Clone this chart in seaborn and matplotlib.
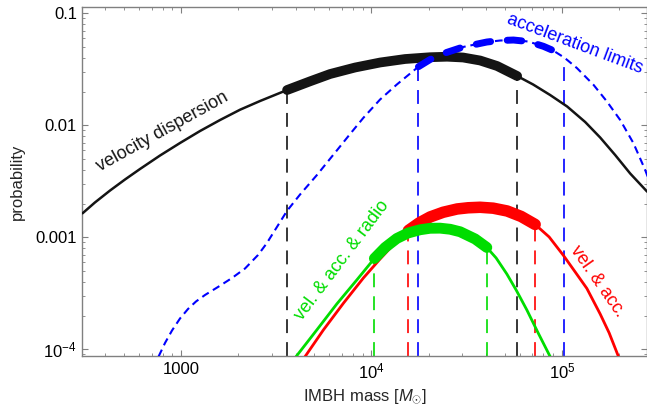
import numpy as np
import pandas as pd
import matplotlib
matplotlib.use("Agg")
import matplotlib.pyplot as plt
import seaborn as sns
from matplotlib.ticker import FixedLocator, FixedFormatter, LogLocator, NullFormatter

# ---------------- data ----------------
# velocity dispersion (black)
vd_mass = [304, 353, 424, 508, 609, 776, 988, 1258, 1603, 2042, 2600, 3605, 4761,
           6065, 8206, 11100, 15020, 20330, 24970, 30300, 37220, 45720, 58240,
           70670, 86790, 106600, 132600, 158900, 190500, 228500, 280600]
vd_prob = [1.638e-3, 2.045e-3, 2.617e-3, 3.282e-3, 4.072e-3, 5.375e-3, 6.95e-3,
           8.89e-3, 1.115e-2, 1.378e-2, 1.648e-2, 2.066e-2, 2.471e-2, 2.871e-2,
           3.282e-2, 3.637e-2, 3.908e-2, 4.055e-2, 4.097e-2, 4.031e-2, 3.79e-2,
           3.384e-2, 2.755e-2, 2.313e-2, 1.864e-2, 1.472e-2, 1.070e-2, 7.78e-3,
           5.43e-3, 3.71e-3, 2.554e-3]
vd_ci = [3605, 58240]

# acceleration limits (blue, dashed)
acc_mass = [762, 824, 897, 988, 1088, 1199, 1337, 1564, 1853, 2169, 2538, 2819, 3194,
            3605, 4219, 5163, 6577, 7723, 9073, 11100, 13590, 17650, 20330, 23880,
            30410, 40360, 47410, 55680, 66530, 80050, 90000, 103200, 119900, 146600,
            172300, 202500, 237800, 273900, 284100]
acc_prob = [8.6e-5, 1.138e-4, 1.472e-4, 1.884e-4, 2.289e-4, 2.672e-4, 3.053e-4,
            3.599e-4, 4.331e-4, 5.265e-4, 6.95e-4, 8.839e-4, 1.241e-3, 1.724e-3,
            2.411e-3, 3.585e-3, 5.957e-3, 8.361e-3, 1.167e-2, 1.700e-2, 2.313e-2,
            3.336e-2, 3.868e-2, 4.376e-2, 5.012e-2, 5.543e-2, 5.716e-2, 5.775e-2,
            5.601e-2, 5.074e-2, 4.655e-2, 4.014e-2, 3.248e-2, 2.299e-2, 1.634e-2,
            1.115e-2, 6.91e-3, 3.99e-3, 3.384e-3]
acc_ci = [17650, 103200]

# vel. & acc. (red)
va_mass = [4481, 5592, 7122, 9073, 11100, 13150, 15640, 17790, 20330, 23790, 28180,
           32200, 37220, 43560, 51590, 61120, 72400, 85770, 101950, 117500, 135300,
           158900, 177200, 198300]
va_prob = [8.6e-5, 1.487e-4, 2.574e-4, 4.331e-4, 6.40e-4, 8.71e-4, 1.150e-3,
           1.342e-3, 1.518e-3, 1.672e-3, 1.789e-3, 1.834e-3, 1.853e-3, 1.819e-3,
           1.717e-3, 1.534e-3, 1.301e-3, 1.006e-3, 6.879e-4, 4.899e-4, 3.491e-4,
           2.066e-4, 1.398e-4, 8.6e-5]
va_ci = [15640, 72400]

# vel. & acc. & radio (green)
var_mass = [4019, 5163, 6577, 8375, 10360, 11800, 13590, 15570, 18010, 20330, 22950,
            25900, 29220, 35040, 40360, 45160, 51400, 57530, 65490, 75080, 86790]
var_prob = [8.6e-5, 1.487e-4, 2.538e-4, 4.156e-4, 6.467e-4, 8.107e-4, 9.757e-4,
            1.092e-3, 1.167e-3, 1.203e-3, 1.206e-3, 1.179e-3, 1.120e-3, 9.656e-4,
            8.107e-4, 6.535e-4, 4.701e-4, 3.384e-4, 2.243e-4, 1.398e-4, 8.6e-5]
var_ci = [10360, 40360]

x_ticks = [1000, 1e4, 1e5]
x_tick_labels = ["1000", r"$10^4$", r"$10^5$"]
y_ticks = [1e-4, 1e-3, 1e-2, 1e-1]
y_tick_labels = [r"$10^{-4}$", "0.001", "0.01", "0.1"]
x_range = [303.7, 2.8e5]
y_range = [8.7e-5, 0.1146]

# ---------------- styling ----------------
sns.set_theme(style="ticks")
plt.rcParams["font.family"] = ["Liberation Sans", "DejaVu Sans"]
plt.rcParams["mathtext.fontset"] = "custom"
plt.rcParams["mathtext.rm"] = "Liberation Sans"
plt.rcParams["mathtext.it"] = "Liberation Sans:italic"
plt.rcParams["mathtext.default"] = "rm"
plt.rcParams["lines.scale_dashes"] = False

fig = plt.figure(figsize=(6.47, 4.11), dpi=100)
fig.patch.set_facecolor("white")
ax = fig.add_axes([0.1275, 0.1338, 0.8725, 0.8499])
ax.set_facecolor("white")
ax.set_xscale("log")
ax.set_yscale("log")
ax.set_xlim(*x_range)
ax.set_ylim(*y_range)

VDASH = (0, (10.0, 6.5))


def draw(mass, prob, ci, color, lw_thin, lw_thick, ls_thin="-", ls_thick="-"):
    df = pd.DataFrame({"mass": mass, "prob": prob})
    sns.lineplot(data=df, x="mass", y="prob", color=color, linewidth=lw_thin,
                 linestyle=ls_thin, estimator=None, sort=False, ax=ax, zorder=3,
                 solid_joinstyle="round")
    sel = df[(df["mass"] >= ci[0]) & (df["mass"] <= ci[1])]
    kw = dict(solid_capstyle="round", dash_capstyle="round", solid_joinstyle="round")
    sns.lineplot(data=sel, x="mass", y="prob", color=color, linewidth=lw_thick,
                 linestyle=ls_thick, estimator=None, sort=False, ax=ax, zorder=4, **kw)
    tops = [sel["prob"].iloc[0], sel["prob"].iloc[-1]]
    ax.vlines(ci, ymin=y_range[0], ymax=tops, colors=color, linestyles=[VDASH],
              linewidth=1.2, zorder=2)


draw(vd_mass, vd_prob, vd_ci, "#141414", 1.8, 7.0)
draw(acc_mass, acc_prob, acc_ci, "#0000ff", 1.5, 5.0,
     ls_thin=(0, (5.5, 3.5)), ls_thick=(0, (10.5, 12.0)))
draw(va_mass, va_prob, va_ci, "#ff0000", 2.0, 8.3)
draw(var_mass, var_prob, var_ci, "#00dd00", 2.0, 7.8)

# ---------------- axes decoration ----------------
ax.xaxis.set_major_locator(FixedLocator(x_ticks))
ax.xaxis.set_major_formatter(FixedFormatter(x_tick_labels))
ax.xaxis.set_minor_locator(LogLocator(base=10, subs=np.arange(2, 10)))
ax.xaxis.set_minor_formatter(NullFormatter())
ax.yaxis.set_major_locator(FixedLocator(y_ticks))
ax.yaxis.set_major_formatter(FixedFormatter(y_tick_labels))
ax.yaxis.set_minor_locator(LogLocator(base=10, subs=np.arange(2, 10)))
ax.yaxis.set_minor_formatter(NullFormatter())

ax.tick_params(which="both", direction="in", top=True, right=True,
               color="#808080", labelcolor="black")
ax.tick_params(which="major", length=4.5, width=0.8, labelsize=12, pad=4)
ax.tick_params(which="minor", length=2.5, width=0.6)
for s in ax.spines.values():
    s.set_color("#808080")
    s.set_linewidth(1.0)
    s.set_visible(True)

ax.set_xlabel(r"IMBH mass [$\mathit{M}_{\odot}$]", fontsize=12)
ax.set_ylabel("probability", fontsize=12)
ax.xaxis.set_label_coords(0.5, -0.09)
ax.yaxis.set_label_coords(-0.102, 0.5)

txt = dict(transform=ax.transAxes, ha="center", va="center",
           rotation_mode="anchor", fontsize=13)
ax.text(0.1417, 0.6413, "velocity dispersion", color="#141414", rotation=29, **txt)
ax.text(0.872, 0.8947, "acceleration limits", color="#0000ff", rotation=-20.5, **txt)
ax.text(0.459, 0.2748, "vel. & acc. & radio", color="#00dd00", rotation=53, **txt)
ax.text(0.9114, 0.2147, "vel. & acc.", color="#ff0000", rotation=-55, **txt)

fig.savefig("out.png", dpi=100, facecolor="white")
